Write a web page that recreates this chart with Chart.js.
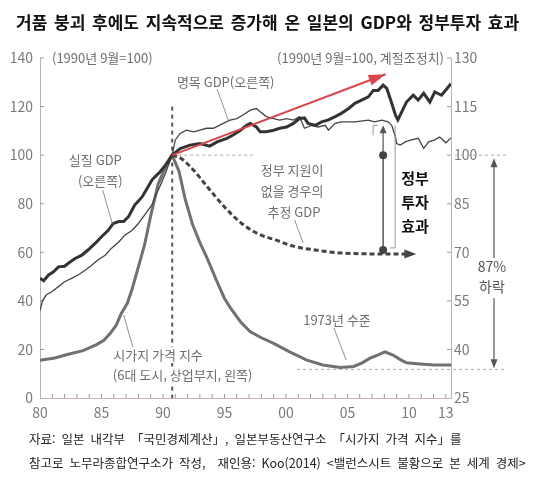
<!DOCTYPE html>
<html lang="ko">
<head>
<meta charset="utf-8">
<script src="https://cdn.jsdelivr.net/npm/chart.js@4.4.1/dist/chart.umd.min.js"></script>
<style>
  html, body { margin: 0; padding: 0; background: #fff; }
  #quadro { position: relative; width: 538px; height: 478px; font-family: 'Noto Sans CJK KR', 'Noto Sans', sans-serif; }
  #grafico { position: absolute; left: 0; top: 0; }
  .titulo { position: absolute; left: 16px; top: 10px; font-size: 17px; font-weight: bold; color: #111; white-space: pre; line-height: 24px; word-spacing: 2px; }
  .fonte { position: absolute; left: 29px; font-size: 12.5px; color: #222; white-space: pre; line-height: 16px; word-spacing: 2.5px; }
</style>
</head>
<body>
<div id="quadro">
  <canvas id="grafico" width="538" height="478"></canvas>
  <div class="titulo">거품 붕괴 후에도 지속적으로 증가해 온 일본의 GDP와 정부투자 효과</div>
  <div class="fonte" style="top:431px">자료: 일본 내각부 「국민경제계산」, 일본부동산연구소 「시가지 가격 지수」를</div>
  <div class="fonte" style="top:455px">참고로 노무라종합연구소가 작성,  재인용: Koo(2014) &lt;밸런스시트 불황으로 본 세계 경제&gt;</div>
</div>
<script>
const FONTE = "'Noto Sans CJK KR', 'Noto Sans', sans-serif";

// eixo x (anos) e rótulos
const anosRotulo = [1980, 1985, 1990, 1995, 2000, 2005, 2010, 2013];

// 시가지 가격 지수 (eixo esquerdo, 1990.9 = 100)
const anosTerreno = [1980.0, 1981.2, 1982.3, 1983.5, 1984.6,
  1985.2, 1985.7, 1986.2, 1986.6, 1987.1,
  1987.5, 1988.0, 1988.5, 1989.0, 1989.6,
  1990.2, 1990.75, 1991.3, 1991.8, 1992.4,
  1993.0, 1993.6, 1994.3, 1995.0, 1995.5,
  1996.3, 1997.1, 1998.0, 1999.0, 2000.3,
  2001.7, 2003.0, 2004.4, 2005.5, 2006.2,
  2006.8, 2007.5, 2008.05, 2008.7, 2009.3,
  2009.8, 2010.9, 2012.0, 2013.42];
const valoresTerreno = [15.5, 16.5, 18, 19.5, 22,
  23.8, 26.5, 30, 34.7, 39,
  45, 54, 63, 75, 88,
  95, 100, 93.4, 82, 71.5,
  64, 57.5, 49, 41, 37,
  31.4, 27.3, 24.8, 22.5, 19,
  15.6, 13.6, 12.6, 13, 14.5,
  16.3, 17.8, 19, 17.7, 15.8,
  14.5, 14, 13.6, 13.6];

// 실질 GDP (eixo direito)
const anosReal = [1980.0, 1980.3, 1980.7, 1981.1, 1981.5,
  1982.0, 1982.3, 1982.85, 1983.4, 1983.9,
  1984.5, 1985.0, 1985.55, 1985.95, 1986.4,
  1986.8, 1987.2, 1987.7, 1988.3, 1988.8,
  1989.1, 1989.35, 1989.75, 1990.2, 1990.75,
  1991.4, 1992.2, 1993.0, 1993.8, 1994.4,
  1995.2, 1995.7, 1996.3, 1996.8, 1997.1,
  1997.6, 1997.9, 1998.4, 1999.0, 1999.5,
  2000.05, 2000.6, 2001.1, 2001.5, 2001.8,
  2002.4, 2002.9, 2003.4, 2004.0, 2004.5,
  2005.1, 2005.6, 2006.15, 2006.7, 2007.1,
  2007.5, 2007.9, 2008.2, 2008.6, 2008.9,
  2009.1, 2009.8, 2010.35, 2010.75, 2011.2,
  2011.7, 2012.1, 2012.65, 2013.1, 2013.42];
const valoresReal = [62.0, 61.2, 63.0, 64.0, 65.5,
  65.7, 66.6, 68.1, 69.1, 70.7,
  72.8, 74.8, 76.8, 78.9, 79.5,
  79.5, 81.0, 84.6, 87.1, 90.3,
  92.3, 93.3, 94.8, 96.9, 100,
  102.0, 103.1, 103.6, 102.8, 104.1,
  105.2, 106.2, 107.7, 109.2, 109.8,
  108.7, 107.2, 107.2, 107.7, 108.3,
  108.7, 109.8, 111.3, 111.5, 109.8,
  109.2, 110.3, 110.8, 111.9, 112.9,
  114.4, 116.0, 117.0, 118.0, 120.0,
  120.0, 121.6, 120.6, 116.0, 112.4,
  110.9, 116.4, 118.5, 117.0, 119.1,
  116.4, 119.5, 118.5, 120.6, 122.1];

// 명목 GDP (eixo direito)
const anosNominal = [1980.0, 1980.2, 1980.5, 1980.95, 1981.5,
  1982.0, 1982.6, 1983.1, 1983.7, 1984.2,
  1984.7, 1985.3, 1985.8, 1986.4, 1986.9,
  1987.5, 1988.0, 1988.5, 1989.1, 1989.35,
  1989.75, 1990.2, 1990.75, 1991.0, 1991.4,
  1991.9, 1992.5, 1993.0, 1993.55, 1994.1,
  1994.9, 1995.45, 1996.0, 1996.5, 1997.1,
  1997.6, 1997.9, 1998.4, 1999.0, 1999.5,
  2000.05, 2000.6, 2001.1, 2001.5, 2002.1,
  2002.6, 2003.2, 2003.45, 2004.0, 2004.5,
  2005.6, 2006.7, 2007.2, 2007.8, 2008.3,
  2008.6, 2008.9, 2009.0, 2009.3, 2009.7,
  2010.2, 2010.75, 2011.2, 2011.6, 2012.1,
  2012.5, 2013.0, 2013.42];
const valoresNominal = [52.0, 55.0, 56.8, 57.8, 59.4,
  60.9, 62.0, 63.0, 64.5, 66.0,
  67.6, 69.1, 71.2, 73.2, 75.3,
  76.8, 78.9, 81.5, 84.6, 87.1,
  90.3, 94.4, 100, 104.7, 106.7,
  107.7, 107.2, 107.7, 108.3, 108.3,
  109.8, 110.8, 111.3, 112.4, 113.9,
  114.4, 113.4, 111.9, 111.3, 110.8,
  111.3, 110.8, 111.9, 108.3, 109.2,
  108.7, 109.2, 107.7, 109.8, 110.3,
  110.3, 110.8, 110.3, 110.8, 110.3,
  109.2, 105.6, 103.6, 103.1, 104.1,
  104.7, 105.2, 102.1, 104.1, 104.7,
  105.6, 103.8, 105.3];

// 정부 지원이 없을 경우의 추정 GDP (eixo direito)
const anosEstimado = [1990.75, 1991.5, 1992.45, 1993.6, 1995.0, 1996.4, 1997.8, 1999.2, 2000.6, 2002.0, 2004.8, 2007.9, 2010.0];
const valoresEstimado = [100, 98.9, 95.5, 90.25, 84.0, 78.9, 75.6, 73.75, 71.9, 70.9, 69.7, 69.5, 69.5];
const pontaEstimado = [2010.6, 69.5];

// seta vermelha de tendência (eixo direito)
const anosTendencia = [1990.75, 2008.1];
const valoresTendencia = [100, 125];

// marcas de referência
const anoBolha = 1990.75;        // 1990년 9월
const nivel1973 = 11.8;          // eixo esquerdo
const anoEfeito = 2007.9;        // 정부 투자 효과
const topoEfeito = 109.2;        // eixo direito

function pontos(xs, ys) {
  return xs.map((x, i) => ({ x: x, y: ys[i] }));
}

function ponta(ctx, x0, y0, x1, y1, comp, larg, cor) {
  const ang = Math.atan2(y1 - y0, x1 - x0);
  ctx.save();
  ctx.translate(x1, y1);
  ctx.rotate(ang);
  ctx.beginPath();
  ctx.moveTo(0, 0);
  ctx.lineTo(-comp, -larg / 2);
  ctx.lineTo(-comp, larg / 2);
  ctx.closePath();
  ctx.fillStyle = cor;
  ctx.fill();
  ctx.restore();
}

function linha(ctx, pts, cor, largura, tracejado) {
  ctx.save();
  ctx.strokeStyle = cor;
  ctx.lineWidth = largura;
  ctx.setLineDash(tracejado || []);
  ctx.beginPath();
  pts.forEach((p, i) => i ? ctx.lineTo(p[0], p[1]) : ctx.moveTo(p[0], p[1]));
  ctx.stroke();
  ctx.restore();
}

function texto(ctx, str, x, y, fonte, cor, alinhar, fundo) {
  ctx.save();
  ctx.font = fonte;
  ctx.textAlign = alinhar || 'center';
  ctx.textBaseline = 'middle';
  if (fundo) {
    const w = ctx.measureText(str).width;
    ctx.fillStyle = '#fff';
    ctx.fillRect(x - w / 2 - 2, y - 8, w + 4, 16);
  }
  ctx.fillStyle = cor;
  ctx.fillText(str, x, y);
  ctx.restore();
}

const anotacoes = {
  id: 'anotacoes',
  beforeDatasetsDraw(chart) {
    const { ctx, chartArea: area, scales: { x, y, y1 } } = chart;
    // pequenas marcas para dentro
    for (let ano = 1981; ano <= 2013; ano++) {
      linha(ctx, [[x.getPixelForValue(ano), area.bottom], [x.getPixelForValue(ano), area.bottom - 4]], '#999', 1);
    }
    for (let v = 20; v <= 140; v += 20) {
      linha(ctx, [[area.left, y.getPixelForValue(v)], [area.left + 4, y.getPixelForValue(v)]], '#999', 1);
    }
    for (let v = 40; v <= 130; v += 15) {
      linha(ctx, [[area.right - 4, y1.getPixelForValue(v)], [area.right, y1.getPixelForValue(v)]], '#999', 1);
    }
    // linhas pontilhadas de referência
    const xb = x.getPixelForValue(anoBolha);
    linha(ctx, [[xb, y.getPixelForValue(120)], [xb, area.bottom]], '#555', 2, [4, 4]);
    linha(ctx, [[xb, y1.getPixelForValue(100)], [x.getPixelForValue(1997.3), y1.getPixelForValue(100)]], '#aaa', 1, [3, 3]);
    linha(ctx, [[area.right + 4, y1.getPixelForValue(100)], [area.right + 56, y1.getPixelForValue(100)]], '#aaa', 1, [3, 3]);
    linha(ctx, [[x.getPixelForValue(2000.9), y.getPixelForValue(nivel1973)], [area.right + 56, y.getPixelForValue(nivel1973)]], '#aaa', 1, [3, 3]);
  },
  afterDatasetsDraw(chart) {
    const { ctx, chartArea: area, scales: { x, y, y1 } } = chart;
    const px = v => x.getPixelForValue(v);
    const pl = v => y.getPixelForValue(v);
    const pr = v => y1.getPixelForValue(v);
    const cinza = '#6e6e6e';
    const f13 = '13px ' + FONTE;

    // pontas das setas
    ponta(ctx, px(anosTendencia[0]), pr(valoresTendencia[0]), px(anosTendencia[1]), pr(valoresTendencia[1]), 17, 11, '#d8464b');
    const nE = anosEstimado.length - 1;
    linha(ctx, [[px(anosEstimado[nE]), pr(valoresEstimado[nE])], [px(pontaEstimado[0]) - 8, pr(pontaEstimado[1])]], '#444', 3, [5, 3]);
    ponta(ctx, px(anosEstimado[nE]), pr(pontaEstimado[1]), px(pontaEstimado[0]), pr(pontaEstimado[1]), 12, 9, '#444');

    // 정부 투자 효과
    const xe = px(anoEfeito);
    const yAlto = pr(100), yBaixo = pr(valoresEstimado[nE]) - 4;
    linha(ctx, [[xe, yAlto], [xe, yBaixo]], '#555', 1.5);
    linha(ctx, [[xe, yAlto], [xe, pr(topoEfeito) + 6]], '#555', 1.2);
    ponta(ctx, xe, yAlto, xe, pr(topoEfeito), 8, 7, '#555');
    [yAlto, yBaixo].forEach(yy => {
      ctx.beginPath();
      ctx.arc(xe, yy, 4, 0, Math.PI * 2);
      ctx.fillStyle = '#444';
      ctx.fill();
    });
    linha(ctx, [[xe - 10, pr(topoEfeito) + 10], [xe - 10, pr(topoEfeito)], [xe - 5, pr(topoEfeito)]], '#999', 1);
    linha(ctx, [[xe + 12, pr(topoEfeito)], [xe + 12, yBaixo - 2], [xe + 7, yBaixo - 2]], '#999', 1);
    ['정부', '투자', '효과'].forEach((s, i) => texto(ctx, s, px(2010.5), pl(90.6 - i * 9.9), 'bold 15px ' + FONTE, '#111'));

    // 87% 하락
    const xq = area.right + 43;
    linha(ctx, [[xq, pl(100) + 10], [xq, pl(nivel1973) - 10]], '#555', 1.2);
    ponta(ctx, xq, pl(90), xq, pl(100) + 3, 9, 7, '#555');
    ponta(ctx, xq, pl(30), xq, pl(nivel1973) - 1, 9, 7, '#555');
    ctx.fillStyle = '#fff';
    ctx.fillRect(xq - 16, pl(53.9) - 9, 32, 40);
    texto(ctx, '87%', xq - 2, pl(53.9), '14px ' + FONTE, '#555');
    texto(ctx, '하락', xq - 2, pl(45.7), '14px ' + FONTE, '#555');

    // rótulos de unidade
    texto(ctx, '(1990년 9월=100)', area.left + 12, area.top, f13, cinza, 'left');
    texto(ctx, '(1990년 9월=100, 계절조정치)', area.right - 7, area.top, f13, cinza, 'right');

    // rótulos das séries com linhas de chamada
    texto(ctx, '명목 GDP(오른쪽)', px(1995.1), pl(130.1), f13, cinza);
    linha(ctx, [[px(1994.4), pl(127.2)], [px(1995.3), pl(114.5)]], '#777', 0.8);
    texto(ctx, '실질 GDP', px(1984.5), pl(98), f13, cinza);
    texto(ctx, '(오른쪽)', px(1984.9), pl(89.4), f13, cinza);
    linha(ctx, [[px(1985.1), pl(85.6)], [px(1985.9), pl(71.6)]], '#777', 0.8);
    texto(ctx, '정부 지원이', px(2000.5), pl(93.9), f13, cinza);
    texto(ctx, '없을 경우의', px(2000.5), pl(85.2), f13, cinza);
    texto(ctx, '추정 GDP', px(2000.65), pl(76.6), f13, cinza);
    linha(ctx, [[px(2000.7), pl(73.3)], [px(2001.4), pl(63.8)]], '#777', 0.8);
    texto(ctx, '1973년 수준', px(2004.15), pl(32.1), f13, cinza);
    linha(ctx, [[px(2003.9), pl(28.8)], [px(2004.9), pl(15.6)]], '#777', 0.8);
    texto(ctx, '시가지 가격 지수', px(1989.6), pl(17.7), f13, cinza, 'center', true);
    texto(ctx, '(6대 도시, 상업부지, 왼쪽)', px(1991.6), pl(9.5), f13, cinza, 'center', true);
    linha(ctx, [[px(1987.55), pl(21)], [px(1986.8), pl(34.2)]], '#777', 0.8);
  }
};

const data = {
  datasets: [
    {
      label: '추세',
      data: pontos(anosTendencia, valoresTendencia),
      yAxisID: 'y1',
      borderColor: '#d8464b',
      borderWidth: 2,
      pointRadius: 0,
      order: 0
    },
    {
      label: '실질 GDP(오른쪽)',
      data: pontos(anosReal, valoresReal),
      yAxisID: 'y1',
      borderColor: '#333',
      borderWidth: 3,
      pointRadius: 0,
      order: 1
    },
    {
      label: '명목 GDP(오른쪽)',
      data: pontos(anosNominal, valoresNominal),
      yAxisID: 'y1',
      borderColor: '#444',
      borderWidth: 1.3,
      pointRadius: 0,
      order: 2
    },
    {
      label: '정부 지원이 없을 경우의 추정 GDP',
      data: pontos(anosEstimado, valoresEstimado),
      yAxisID: 'y1',
      borderColor: '#444',
      borderWidth: 3,
      borderDash: [5, 3],
      cubicInterpolationMode: 'monotone',
      pointRadius: 0,
      order: 3
    },
    {
      label: '시가지 가격 지수',
      data: pontos(anosTerreno, valoresTerreno),
      yAxisID: 'y',
      borderColor: '#717171',
      borderWidth: 3,
      pointRadius: 0,
      order: 4
    }
  ]
};

const ticksEstilo = { color: '#7a7a7a', font: { size: 14, family: FONTE } };

const config = {
  type: 'line',
  data: data,
  options: {
    responsive: false,
    animation: false,
    layout: { padding: { top: 58, left: 0, right: 0, bottom: 0 } },
    plugins: {
      legend: { display: false },
      tooltip: { enabled: false }
    },
    scales: {
      x: {
        type: 'linear',
        min: 1980,
        max: 2013.42,
        grid: { drawOnChartArea: false, drawTicks: false },
        border: { display: true, color: '#cbb0b0', width: 1 },
        ticks: Object.assign({ padding: 6, autoSkip: false, maxRotation: 0,
          callback: v => String(v % 100).padStart(2, '0') }, ticksEstilo),
        afterBuildTicks: s => { s.ticks = anosRotulo.map(v => ({ value: v })); },
        afterFit: s => { s.height = 80; }
      },
      y: {
        position: 'left',
        min: 0,
        max: 140,
        grid: { drawOnChartArea: false, drawTicks: false },
        border: { display: true, color: '#b5b5b5', width: 1 },
        ticks: Object.assign({ stepSize: 20, padding: 7 }, ticksEstilo),
        afterFit: s => { s.width = 40; }
      },
      y1: {
        position: 'right',
        min: 25,
        max: 130,
        grid: { drawOnChartArea: false, drawTicks: false },
        border: { display: true, color: '#b5b5b5', width: 1 },
        ticks: Object.assign({ stepSize: 15, padding: 3 }, ticksEstilo),
        afterFit: s => { s.width = 87; }
      }
    }
  },
  plugins: [anotacoes]
};

new Chart(document.getElementById('grafico'), config);
</script>
</body>
</html>
